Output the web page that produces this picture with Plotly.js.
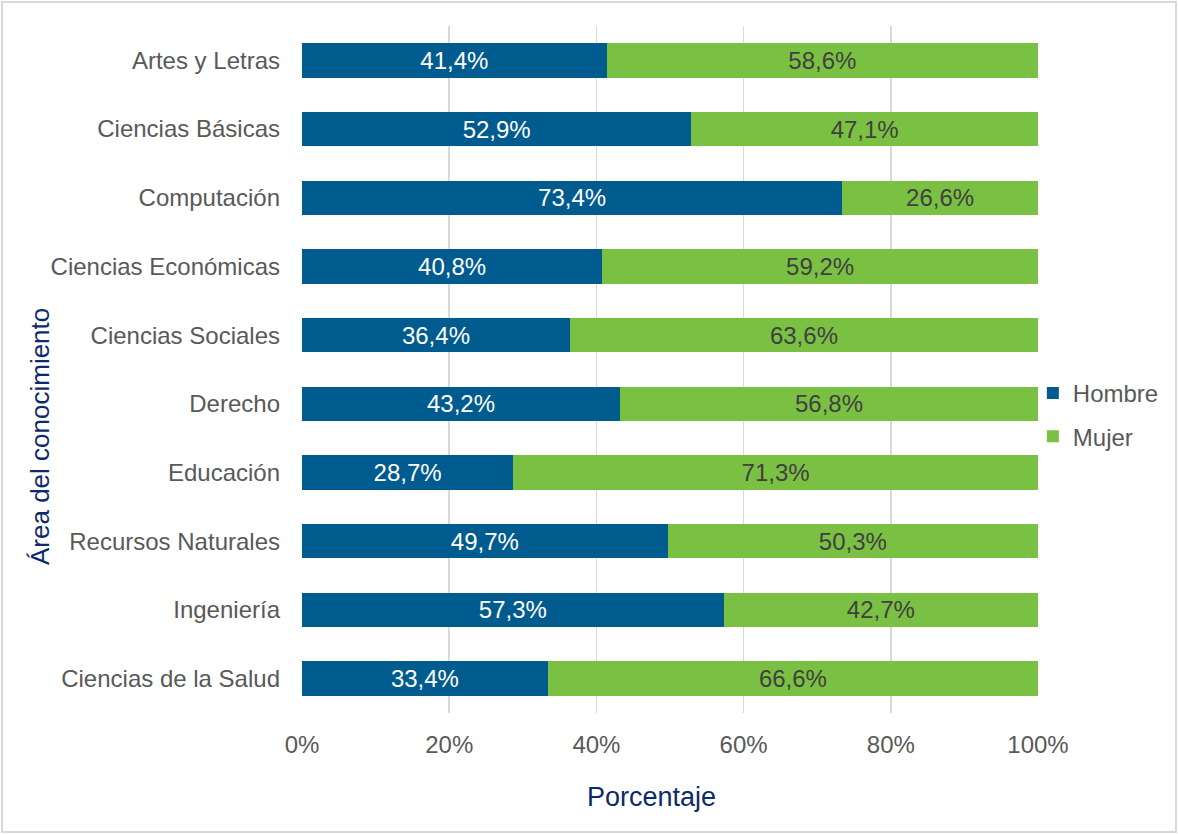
<!DOCTYPE html>
<html>
<head>
<meta charset="utf-8">
<script src="https://cdn.plot.ly/plotly-3.0.1.min.js"></script>
<style>
  html, body { margin: 0; padding: 0; background: #ffffff; }
  #wrap { position: relative; width: 1178px; height: 834px; }
  #chart { position: absolute; left: 0; top: 0; width: 1178px; height: 834px; }
  #frame { position: absolute; left: 1px; top: 1px; width: 1172px; height: 828px; border: 2px solid #d9d9d9; pointer-events: none; }
</style>
</head>
<body>
<div id="wrap">
  <div id="chart"></div>
  <div id="frame"></div>
</div>
<script>
const areas = ["Artes y Letras", "Ciencias Básicas", "Computación", "Ciencias Económicas",
  "Ciencias Sociales", "Derecho", "Educación", "Recursos Naturales", "Ingeniería", "Ciencias de la Salud"];
const hombre = [41.4, 52.9, 73.4, 40.8, 36.4, 43.2, 28.7, 49.7, 57.3, 33.4];
const mujer = [58.6, 47.1, 26.6, 59.2, 63.6, 56.8, 71.3, 50.3, 42.7, 66.6];
const xTicks = [0, 20, 40, 60, 80, 100];
const xTickLabels = ["0%", "20%", "40%", "60%", "80%", "100%"];

const font = "Liberation Sans, Arial, sans-serif";
const traces = [
  {
    type: "bar", orientation: "h", name: "Hombre", y: areas, x: hombre,
    marker: { color: "#005B8F" },
    texttemplate: "%{x:.1f}%", textposition: "inside", insidetextanchor: "middle",
    textangle: 0, constraintext: "none",
    textfont: { color: "#ffffff", size: 24, family: font },
    legendgroup: "a", hoverinfo: "skip"
  },
  {
    type: "bar", orientation: "h", name: "Mujer", y: areas, x: mujer,
    marker: { color: "#7AC143" },
    texttemplate: "%{x:.1f}%", textposition: "inside", insidetextanchor: "middle",
    textangle: 0, constraintext: "none",
    textfont: { color: "#404040", size: 24, family: font },
    legendgroup: "b", hoverinfo: "skip"
  }
];

const layout = {
  width: 1178, height: 834,
  margin: { l: 302, r: 140, t: 26, b: 121, autoexpand: false },
  barmode: "stack", bargap: 0.5,
  separators: ",.",
  paper_bgcolor: "#ffffff", plot_bgcolor: "#ffffff",
  font: { family: font, size: 24, color: "#595959" },
  showlegend: true,
  legend: {
    x: 0.993, xanchor: "left", y: 0.434, yanchor: "middle",
    bgcolor: "rgba(0,0,0,0)", borderwidth: 0,
    font: { size: 24, color: "#595959" },
    traceorder: "grouped", tracegroupgap: 9,
    itemwidth: 30
  },
  xaxis: {
    range: [0, 100], tickvals: xTicks, ticktext: xTickLabels,
    showgrid: true, gridcolor: "#d9d9d9", gridwidth: 1.5,
    zeroline: false, showline: false, ticks: "",
    ticklabelstandoff: 15,
    tickfont: { size: 24, color: "#595959" },
    fixedrange: true
  },
  yaxis: {
    type: "category", categoryorder: "array", categoryarray: areas,
    autorange: "reversed",
    showgrid: false, zeroline: false, showline: false, ticks: "",
    ticklabelstandoff: 21,
    tickfont: { size: 24, color: "#595959" },
    fixedrange: true
  },
  annotations: [
    { text: "Porcentaje", xref: "paper", yref: "paper", x: 0.4755, y: (834 - 797 - 121) / 687,
      xanchor: "center", yanchor: "middle", showarrow: false,
      font: { size: 27, color: "#0D2A6B", family: font } },
    { text: "Área del conocimiento", xref: "paper", yref: "paper", x: (40 - 302) / 736, y: (713 - 437) / 687,
      xanchor: "center", yanchor: "middle", showarrow: false, textangle: -90,
      font: { size: 26, color: "#0D2A6B", family: font } }
  ]
};

Plotly.newPlot("chart", traces, layout, { displayModeBar: false, staticPlot: true });
</script>
</body>
</html>
